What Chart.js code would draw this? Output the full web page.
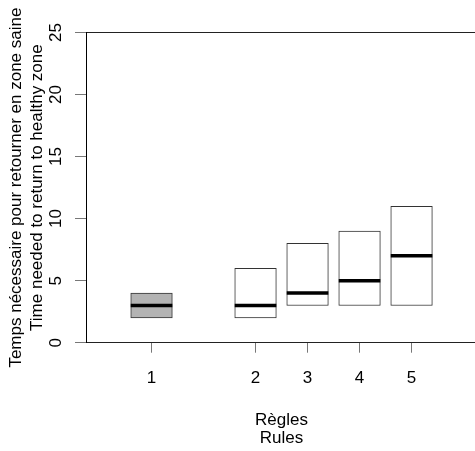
<!DOCTYPE html>
<html>
<head>
<meta charset="utf-8">
<script src="https://cdn.jsdelivr.net/npm/chart.js@4/dist/chart.umd.min.js"></script>
<style>
  html, body { margin: 0; padding: 0; background: #fff; }
  #wrap { width: 475px; height: 451px; overflow: hidden; }
</style>
</head>
<body>
<div id="wrap"><canvas id="c" width="475" height="451"></canvas></div>
<script>
// Boxes per rule: positions on the x axis, lower/upper hinge and median
const positions = [1, 3, 4, 5, 6];
const tickLabels = ['1', '2', '3', '4', '5'];
const lower  = [2, 2, 3, 3, 3];
const upper  = [4, 6, 8, 9, 11];
const median = [3, 3, 4, 5, 7];
const fills  = ['#b3b3b3', '#ffffff', '#ffffff', '#ffffff', '#ffffff'];
const yTicks = [0, 5, 10, 15, 20, 25];

const FONT = '"Liberation Sans", Arial, Helvetica, sans-serif';

// median segments, broken by nulls so each one stays inside its box
const medianPts = [];
positions.forEach((p, i) => {
  medianPts.push({ x: p - 0.4, y: median[i] });
  medianPts.push({ x: p + 0.4, y: median[i] });
  medianPts.push({ x: p, y: null });
});

// rotated y tick labels and the axis titles
const textPlugin = {
  id: 'axisText',
  afterDraw(chart) {
    const { ctx, scales: { x, y } } = chart;
    ctx.save();
    ctx.fillStyle = '#000';
    ctx.font = '17px ' + FONT;
    ctx.textAlign = 'center';
    ctx.textBaseline = 'alphabetic';
    yTicks.forEach(v => {
      ctx.save();
      ctx.translate(61, y.getPixelForValue(v));
      ctx.rotate(-Math.PI / 2);
      ctx.fillText(String(v), 0, 0);
      ctx.restore();
    });
    const cy = y.getPixelForValue(12.5);
    ctx.save();
    ctx.translate(21, cy);
    ctx.rotate(-Math.PI / 2);
    ctx.fillText('Temps nécessaire pour retourner en zone saine', 0, 0);
    ctx.fillText('Time needed to return to healthy zone', 0, 21);
    ctx.restore();
    const cx = x.getPixelForValue(3.5);
    ctx.fillText('Règles', cx, 425);
    ctx.fillText('Rules', cx, 443);
    ctx.restore();
  }
};

new Chart(document.getElementById('c'), {
  type: 'bar',
  data: {
    datasets: [
      {
        type: 'bar',
        data: positions.map((p, i) => ({ x: p, y: [lower[i], upper[i]] })),
        backgroundColor: fills,
        borderColor: '#333',
        borderWidth: 1,
        borderSkipped: false,
        barThickness: 41.6,
        order: 2
      },
      {
        type: 'line',
        data: medianPts,
        borderColor: '#000',
        borderWidth: 3.5,
        borderCapStyle: 'butt',
        pointRadius: 0,
        spanGaps: false,
        order: 1
      }
    ]
  },
  options: {
    responsive: false,
    animation: false,
    layout: { padding: { top: 32.5, right: 0, left: 0, bottom: 0 } },
    plugins: { legend: { display: false }, tooltip: { enabled: false } },
    scales: {
      x: {
        type: 'linear',
        min: -0.26,
        max: 7.22,
        offset: false,
        afterBuildTicks: s => { s.ticks = positions.map(v => ({ value: v })); },
        afterFit: s => { s.height = 451 - 342.7; },
        ticks: {
          callback: (v, i) => tickLabels[i],
          color: '#000',
          font: { family: FONT, size: 17 },
          padding: 15,
          maxRotation: 0
        },
        grid: { offset: false, drawOnChartArea: false, tickLength: 10, tickColor: '#777' },
        border: { display: false }
      },
      y: {
        type: 'linear',
        min: 0,
        max: 25,
        afterBuildTicks: s => { s.ticks = yTicks.map(v => ({ value: v })); },
        afterFit: s => { s.width = 86; },
        ticks: { display: false },
        grid: {
          tickLength: 11,
          tickColor: '#777',
          color: c => (c.tick && (c.tick.value === 0 || c.tick.value === 25)) ? '#222' : 'rgba(0,0,0,0)'
        },
        border: { display: true, color: '#000' }
      }
    }
  },
  plugins: [textPlugin]
});
</script>
</body>
</html>
